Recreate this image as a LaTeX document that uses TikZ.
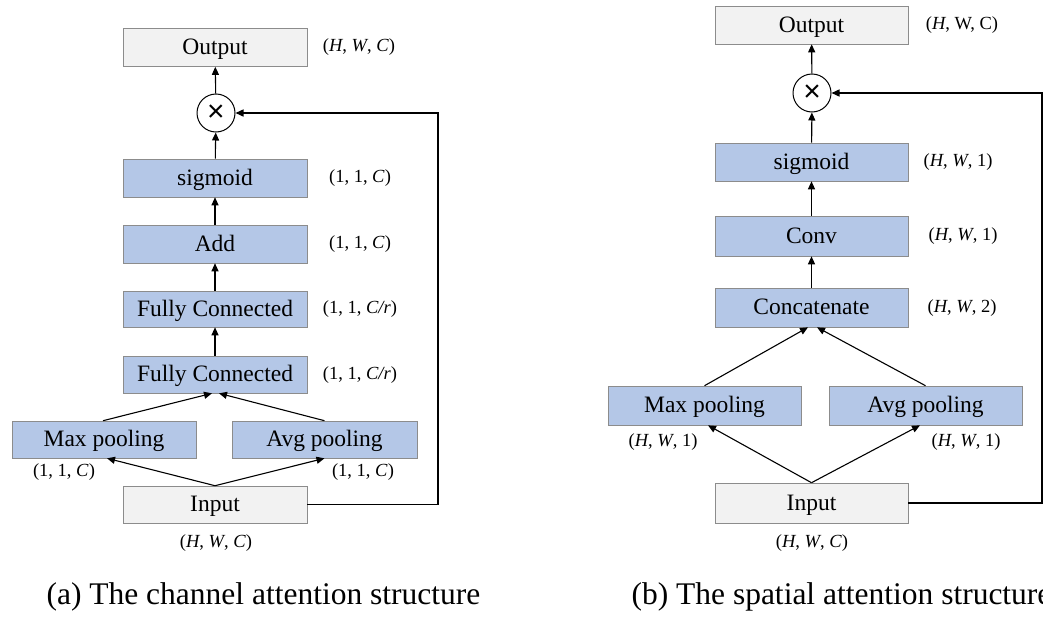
\documentclass[tikz,border=0pt]{standalone}
\usepackage{fontspec}
\setmainfont{Liberation Serif}
\newfontfamily\crossfont{Liberation Sans}
\usetikzlibrary{arrows.meta, positioning, calc}
\definecolor{lyrblue}{HTML}{B4C7E7}
\definecolor{lyrgray}{HTML}{F2F2F2}
\definecolor{lyredge}{HTML}{8C8C8C}

\begin{document}
\begin{tikzpicture}[
  x=1pt, y=-1pt,
  >={Triangle[length=8pt, width=7pt]},
  box/.style 2 args={
    draw=lyredge, line width=0.6pt, fill=#1,
    minimum width=#2, minimum height=38pt, inner sep=0pt,
    text height=19pt, text depth=4.7pt,
    font=\fontsize{23.5}{26}\selectfont},
  lbl/.style={font=\fontsize{18.5}{21}\selectfont, inner sep=0pt},
  mul/.style={draw, circle, line width=1pt, minimum size=38pt, inner sep=0pt,
    font=\crossfont\fontsize{30}{30}\selectfont},
  flow/.style={->, line width=1.1pt},
  back/.style={->, line width=1.5pt},
  captxt/.style={font=\fontsize{31.5}{34}\selectfont, anchor=base west},
]

% Canvas
\useasboundingbox (0,0) rectangle (1043,616);
\clip (0,0) rectangle (1043,616);

% === (a) channel attention ===
\node[box={lyrgray}{184pt}] (outA) at (215,47.5) {Output};
\node[mul] (mulA) at (216,113) {×};
\node[box={lyrblue}{184pt}] (sigA) at (215,178) {sigmoid};
\node[box={lyrblue}{184pt}] (addA) at (215,244) {Add};
\node[box={lyrblue}{184pt}, minimum height=36pt] (fcA1) at (215,309) {Fully Connected};
\node[box={lyrblue}{184pt}, minimum height=37pt] (fcA2) at (215,374.5) {Fully Connected};
\node[box={lyrblue}{184pt}, minimum height=37pt] (maxA) at (104,439.5) {Max pooling};
\node[box={lyrblue}{185pt}, minimum height=37pt] (avgA) at (324.5,439.5) {Avg pooling};
\node[box={lyrgray}{184pt}, minimum height=37pt] (inA) at (215,504.5) {Input};

\node[lbl] (outAl) at (359,47) {(\textit{H}, \textit{W}, \textit{C})};
\node[lbl] (sigAl) at (360,178) {(1, 1, \textit{C})};
\node[lbl] (addAl) at (360,244) {(1, 1, \textit{C})};
\node[lbl] (fcA1l) at (360,309) {(1, 1, \textit{C/r})};
\node[lbl] (fcA2l) at (360,375) {(1, 1, \textit{C/r})};
\node[lbl] (maxAl) at (64,472) {(1, 1, \textit{C})};
\node[lbl] (avgAl) at (363,472) {(1, 1, \textit{C})};
\node[lbl] (inAl) at (216,543) {(\textit{H}, \textit{W}, \textit{C})};

\draw[flow] (mulA) -- (outA);
\draw[flow] (sigA) -- (mulA);
\draw[flow] (addA) -- (sigA);
\draw[flow] (fcA1) -- (addA);
\draw[flow] (fcA2) -- (fcA1);
\draw[flow] ([xshift=-1pt]maxA.north) -- ([xshift=-3pt]fcA2.south);
\draw[flow] (avgA.north) -- ([xshift=4pt]fcA2.south);
\draw[flow] (inA.north) -- ([xshift=3pt]maxA.south);
\draw[flow] (inA.north) -- (avgA.south);

\coordinate (cornA) at (438,113);
\draw[back] (inA.east) -| (cornA) -- (mulA.east);

\node[captxt] (capA) at (43,604) {(a) The channel attention structure};

% === (b) spatial attention ===
\node[box={lyrgray}{193pt}] (outB) at (811.5,25) {Output};
\node[mul] (mulB) at (812,93) {×};
\node[box={lyrblue}{193pt}] (sigB) at (811.5,162) {sigmoid};
\node[box={lyrblue}{193pt}, minimum height=40pt] (convB) at (811.5,236) {Conv};
\node[box={lyrblue}{193pt}, minimum height=39pt] (catB) at (811.5,307.5) {Concatenate};
\node[box={lyrblue}{193pt}, minimum height=39pt] (maxB) at (704.5,405.5) {Max pooling};
\node[box={lyrblue}{193pt}, minimum height=39pt] (avgB) at (925.5,405.5) {Avg pooling};
\node[box={lyrgray}{193pt}, minimum height=40pt] (inB) at (811.5,503) {Input};

\node[lbl] (outBl) at (962,25) {(\textit{H}, W, C)};
\node[lbl] (sigBl) at (958,162) {(\textit{H}, \textit{W}, 1)};
\node[lbl] (convBl) at (963,236) {(\textit{H}, \textit{W}, 1)};
\node[lbl] (catBl) at (962,308) {(\textit{H}, \textit{W}, 2)};
\node[lbl] (maxBl) at (663,442) {(\textit{H}, \textit{W}, 1)};
\node[lbl] (avgBl) at (966,442) {(\textit{H}, \textit{W}, 1)};
\node[lbl] (inBl) at (812,543) {(\textit{H}, \textit{W}, \textit{C})};

\draw[flow] (mulB) -- (outB);
\draw[flow] (sigB) -- (mulB);
\draw[flow] (convB) -- (sigB);
\draw[flow] (catB) -- (convB);
\draw[flow] (maxB.north) -- ([xshift=-3.5pt]catB.south);
\draw[flow] (avgB.north) -- ([xshift=5.5pt]catB.south);
\draw[flow] (inB.north) -- ([xshift=3.5pt]maxB.south);
\draw[flow] (inB.north) -- ([xshift=-5.5pt]avgB.south);

\coordinate (cornB) at (1042,93);
\draw[back] (inB.east) -| (cornB) -- (mulB.east);

\node[captxt] (capB) at (628,604) {(b) The spatial attention structure};

\end{tikzpicture}
\end{document}
